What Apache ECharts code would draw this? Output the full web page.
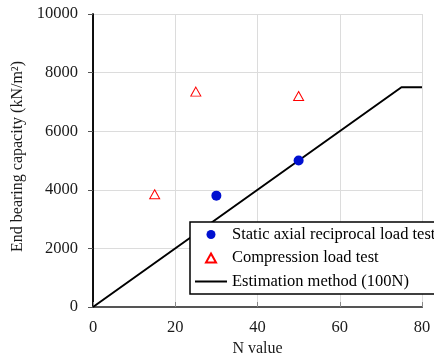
<!DOCTYPE html>
<html>
<head>
<meta charset="utf-8">
<script src="https://cdn.jsdelivr.net/npm/echarts@6/dist/echarts.min.js"></script>
<style>html,body{margin:0;padding:0;background:#fff;}#c{width:434px;height:361px;}</style>
</head>
<body>
<div id="c"></div>
<script>
// Data
const staticN = [30, 50];
const staticQ = [3800, 5000];
const compN = [15, 25, 50];
const compQ = [3850, 7350, 7200];
const estN = [0, 75, 80];
const estQ = [0, 7500, 7500];
const xTicks = [0, 20, 40, 60, 80];
const yTicks = [0, 2000, 4000, 6000, 8000, 10000];

const FONT = '"Liberation Serif", "Times New Roman", serif';
const TXT = '#1a1a1a';
const FS = 16.5;
const zip = (a, b) => a.map((v, i) => [v, b[i]]);

const chart = echarts.init(document.getElementById('c'), null, {renderer: 'canvas'});
chart.setOption({
  animation: false,
  backgroundColor: '#fff',
  textStyle: {fontFamily: FONT, color: TXT},
  grid: {left: 93, right: 12, top: 14, bottom: 54, containLabel: false, outerBoundsMode: 'none'},
  xAxis: [{
    type: 'value', position: 'bottom',
    min: xTicks[0], max: xTicks[xTicks.length - 1], interval: 20,
    name: 'N value', nameLocation: 'middle', nameGap: 27,
    nameTextStyle: {fontFamily: FONT, fontSize: 16, color: TXT},
    axisLine: {show: true, lineStyle: {color: '#666', width: 2}},
    axisTick: {show: true, inside: true, length: 5, lineStyle: {color: '#888'}},
    axisLabel: {fontFamily: FONT, fontSize: FS, color: TXT, margin: 12, formatter: v => String(v)},
    splitLine: {show: true, lineStyle: {color: '#dcdcdc', width: 1}}
  }, {
    type: 'value', position: 'top',
    min: 0, max: 80, interval: 20,
    axisLine: {show: true, lineStyle: {color: '#555', width: 2}},
    axisTick: {show: false}, axisLabel: {show: false}, splitLine: {show: false}
  }],
  yAxis: [{
    type: 'value', position: 'left',
    min: yTicks[0], max: yTicks[yTicks.length - 1], interval: 2000,
    name: 'End bearing capacity (kN/m²)', nameLocation: 'middle', nameGap: 60,
    nameTextStyle: {fontFamily: FONT, fontSize: 16, color: TXT, padding: [0, 0, 0, 8]},
    axisLine: {show: true, lineStyle: {color: '#000', width: 1.5}},
    axisTick: {show: true, inside: false, length: 5, lineStyle: {color: '#555'}},
    axisLabel: {fontFamily: FONT, fontSize: FS, color: TXT, margin: 15, formatter: v => String(v)},
    splitLine: {show: true, lineStyle: {color: '#dcdcdc', width: 1}}
  }, {
    type: 'value', position: 'right',
    min: 0, max: 10000, interval: 2000,
    axisLine: {show: true, lineStyle: {color: '#000', width: 1.5}},
    axisTick: {show: false}, axisLabel: {show: false}, splitLine: {show: false}
  }],
  legend: {
    orient: 'vertical', left: 190, top: 222,
    padding: [4, 10, 4, 5],
    itemWidth: 32, itemHeight: 9, itemGap: 6.5,
    symbolKeepAspect: true,
    backgroundColor: '#fff', borderColor: '#000', borderWidth: 1.5,
    textStyle: {fontFamily: FONT, fontSize: FS, color: '#000', lineHeight: 16},
    data: [
      {name: 'Static axial reciprocal load test', icon: 'circle'},
      {name: 'Compression load test', icon: 'path://M5,0 L10,9 L0,9 Z'},
      {name: 'Estimation method (100N)', icon: 'path://M0,0 L32,0 L32,2 L0,2 Z'}
    ]
  },
  series: [{
    name: 'Estimation method (100N)', type: 'line',
    data: zip(estN, estQ), showSymbol: false, symbol: 'none',
    lineStyle: {color: '#000', width: 2}, itemStyle: {color: '#000'}, z: 2
  }, {
    name: 'Static axial reciprocal load test', type: 'scatter',
    data: zip(staticN, staticQ), symbol: 'circle', symbolSize: 10,
    itemStyle: {color: '#0010d0', opacity: 1}, z: 3
  }, {
    name: 'Compression load test', type: 'scatter',
    data: zip(compN, compQ), symbol: 'triangle', symbolSize: [10, 9],
    itemStyle: {color: '#fff', borderColor: '#ff0000', borderWidth: 1, opacity: 1}, z: 3
  }]
});
</script>
</body>
</html>
